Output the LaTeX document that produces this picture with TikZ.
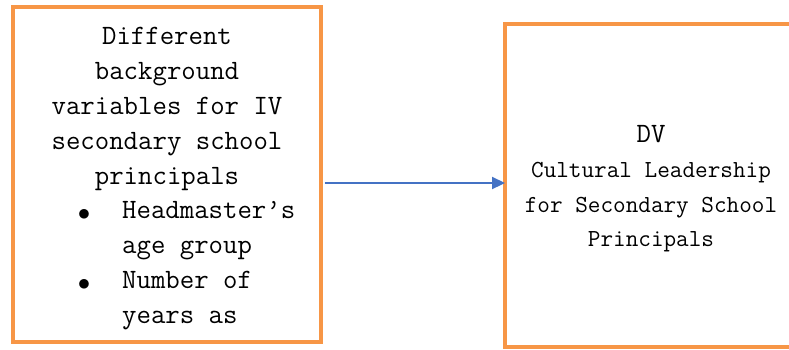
\documentclass[tikz,border=0pt]{standalone}
\usepackage{fontspec}
\usepackage{amsmath}
\usetikzlibrary{positioning, arrows.meta}

\definecolor{boxorange}{RGB}{247,150,70}
\definecolor{arrowblue}{RGB}{68,114,196}

\begin{document}
\begin{tikzpicture}[
    x=1pt, y=-1pt,
    varbox/.style={rectangle, draw=boxorange, line width=4pt, inner sep=0pt, outer sep=0pt},
    ivline/.style={font=\ttfamily\fontsize{28}{35}\selectfont, inner sep=0pt, anchor=base},
    dvline/.style={font=\ttfamily\fontsize{24.5}{35}\selectfont, inner sep=0pt, anchor=base},
    dot/.style={font=\fontsize{34}{35}\selectfont, inner sep=0pt, anchor=base},
    link/.style={-{Triangle[length=13pt, width=12pt]}, line width=2.2pt, draw=arrowblue, fill=arrowblue}
]
\useasboundingbox (0,0) rectangle (789,349);

% === IV box ===
\node[varbox, minimum width=307.5pt, minimum height=335pt] (iv) at (166.75,174.5) {};

% Heading lines
\foreach \txt [count=\i] in {Different, background, variables for IV, secondary school, principals}
    \node[ivline] (ivhead\i) at (167, {44+35*(\i-1)}) {\txt};

% Bullet items
\node[dot] (bullet1) at (84,220) {$\bullet$};
\node[ivline, anchor=base west] (item1) at (122,218) {Headmaster’s};
\node[ivline, anchor=base west] (item1b) at (122,253) {age group};
\node[dot] (bullet2) at (84,290) {$\bullet$};
\node[ivline, anchor=base west] (item2) at (122,288) {Number of};
\node[ivline, anchor=base west] (item2b) at (122,323) {years as};

% === DV box ===
\node[varbox, minimum width=292pt, minimum height=323pt] (dv) at (651,185.5) {};
\node[ivline] (dvhead) at (651,142) {DV};
\node[dvline] (dv1) at (651,177) {Cultural Leadership};
\node[dvline] (dv2) at (651,212) {for Secondary School};
\node[dvline] (dv3) at (651,246) {Principals};

% === Arrow ===
\draw[link, shorten <=4pt] ([yshift=2.5pt]iv.east |- dv.west) -- ([yshift=2.5pt]dv.west);

\end{tikzpicture}
\end{document}
